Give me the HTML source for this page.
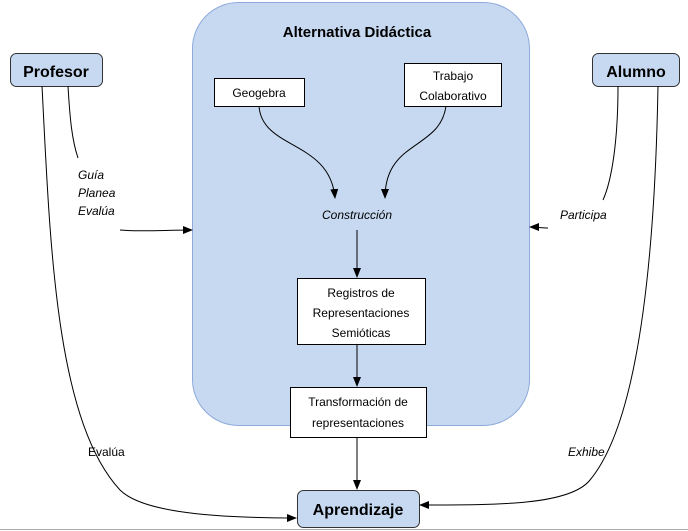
<!DOCTYPE html>
<html><head><meta charset="utf-8"><style>
body{margin:0;background:#fff;}
svg{display:block;font-family:"Liberation Sans",sans-serif;}
</style></head><body>
<svg width="688" height="531" viewBox="0 0 688 531" xmlns="http://www.w3.org/2000/svg">
<defs><marker id="a" markerWidth="10" markerHeight="8" refX="9" refY="4" orient="auto" markerUnits="userSpaceOnUse"><path d="M0,0 L10,4 L0,8 z" fill="#000"/></marker></defs>
<rect x="192.5" y="2.5" width="337" height="423" rx="46" fill="#c6d9f1" stroke="#8eaadb" stroke-width="1"/>
<line x1="0" y1="529.5" x2="688" y2="529.5" stroke="#aaa"/>
<text x="357" y="37" text-anchor="middle" font-size="15" font-weight="bold">Alternativa Didáctica</text>
<rect x="10.5" y="53.5" width="92" height="33" rx="6" fill="#c6d9f1" stroke="#333"/>
<text x="56" y="77" text-anchor="middle" font-size="16" font-weight="bold">Profesor</text>
<rect x="592.5" y="53.5" width="87" height="33" rx="6" fill="#c6d9f1" stroke="#333"/>
<text x="636" y="77" text-anchor="middle" font-size="16" font-weight="bold">Alumno</text>
<rect x="214.5" y="78.5" width="90" height="28" fill="#fff" stroke="#000"/>
<text x="259" y="97" text-anchor="middle" font-size="12">Geogebra</text>
<rect x="404.5" y="63.5" width="97" height="43" fill="#fff" stroke="#000"/>
<text x="453" y="80" text-anchor="middle" font-size="12">Trabajo</text>
<text x="453" y="100" text-anchor="middle" font-size="12">Colaborativo</text>
<text x="357" y="219" text-anchor="middle" font-size="12" font-style="italic">Construcción</text>
<rect x="297.5" y="278.5" width="128" height="66" fill="#fff" stroke="#000"/>
<text x="361" y="297" text-anchor="middle" font-size="12">Registros de</text>
<text x="361" y="317" text-anchor="middle" font-size="12">Representaciones</text>
<text x="361" y="337" text-anchor="middle" font-size="12">Semióticas</text>
<rect x="290.5" y="387.5" width="136" height="50" fill="#fff" stroke="#000"/>
<text x="358" y="406" text-anchor="middle" font-size="12">Transformación de</text>
<text x="358" y="427" text-anchor="middle" font-size="12">representaciones</text>
<rect x="297.5" y="490.5" width="122" height="37" rx="6" fill="#c6d9f1" stroke="#333"/>
<text x="358" y="515" text-anchor="middle" font-size="16" font-weight="bold">Aprendizaje</text>
<g fill="none" stroke="#000" stroke-width="1">
<path d="M259,106 C262,150 330,140 335,198" marker-end="url(#a)"/>
<path d="M446,106 C440,150 385,140 385,198" marker-end="url(#a)"/>
<line x1="357" y1="230" x2="357" y2="277" marker-end="url(#a)"/>
<line x1="357" y1="344" x2="357" y2="386" marker-end="url(#a)"/>
<line x1="357" y1="437" x2="357" y2="489" marker-end="url(#a)"/>
<path d="M68,86 C70,120 72,140 78,158"/>
<path d="M120,230 C140,232 165,230 192,230" marker-end="url(#a)"/>
<path d="M42,86 C50,240 55,420 120,490 C140,510 200,518 296,518" marker-end="url(#a)"/>
<path d="M618,86 C618,140 612,180 603,200"/>
<path d="M548,228 C542,228 536,227 530,227" marker-end="url(#a)"/>
<path d="M658,86 C655,250 640,420 590,480 C570,505 500,505 420,505" marker-end="url(#a)"/>
</g>
<g font-size="12" font-style="italic">
<text x="78" y="179">Guía</text>
<text x="78" y="197">Planea</text>
<text x="78" y="215">Evalúa</text>
<text x="560" y="219">Participa</text>
<text x="568" y="456">Exhibe</text>
</g>
<text x="88" y="456" font-size="12">Evalúa</text>
</svg>
</body></html>
